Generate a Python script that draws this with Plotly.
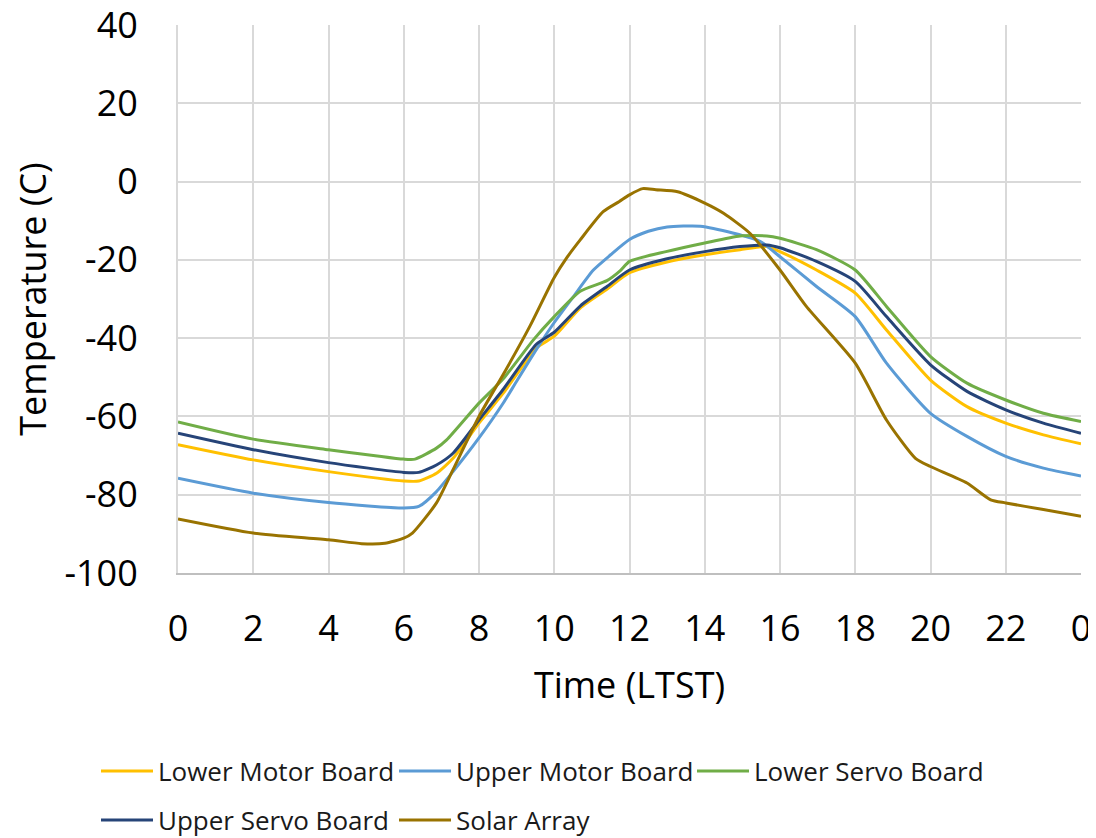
import plotly.graph_objects as go

# ---- data (hours LTST, temperature C) ----
hours_lmb = [0, 2, 4, 6, 6.4, 6.87, 7.31, 8, 8.65, 9.53, 10, 10.69, 11.4, 12, 12.97, 14, 14.94, 15.65, 16, 16.97, 18, 18.83, 20, 20.97, 22, 23, 24]
lower_motor = [-67.2, -71.1, -74.1, -76.5, -76.5, -74.5, -70.7, -61.7, -54.0, -42.5, -39.5, -32.3, -27.5, -23.3, -20.6, -18.7, -17.4, -16.6, -17.9, -22.6, -28.5, -37.9, -50.7, -57.5, -61.7, -64.7, -67.0]

hours_umb = [0, 2, 4, 6, 6.4, 6.87, 7.31, 8, 8.65, 9, 9.53, 10, 10.5, 11.04, 11.5, 12, 12.5, 13, 13.88, 14.77, 15.48, 16, 16.97, 18, 18.83, 20, 20.97, 22, 23, 24]
upper_motor = [-75.8, -79.6, -82.0, -83.4, -83.0, -79.2, -74.1, -65.5, -56.5, -51.0, -42.8, -36.0, -29.5, -22.6, -18.7, -14.8, -12.7, -11.6, -11.4, -13.2, -15.3, -19.2, -26.8, -34.5, -46.4, -59.2, -65.1, -70.2, -73.2, -75.2]

hours_lsb = [0, 2, 4, 6, 6.3, 6.87, 7.14, 8, 8.65, 9.44, 10, 10.69, 11.4, 11.75, 12, 12.97, 14, 14.94, 15.65, 16, 16.97, 18, 18.83, 20, 20.97, 22, 23, 24]
lower_servo = [-61.4, -65.8, -68.5, -70.9, -70.9, -68.1, -66.0, -56.6, -50.3, -40.5, -34.5, -28.0, -25.3, -22.8, -20.4, -17.9, -15.7, -13.9, -13.9, -14.5, -17.4, -22.6, -31.9, -44.7, -51.5, -55.8, -59.2, -61.3]

hours_usb = [0, 2, 4, 6, 6.4, 6.87, 7.31, 8, 8.65, 9.53, 10, 10.69, 11.4, 12, 12.97, 14, 14.94, 15.65, 16, 16.97, 18, 18.83, 20, 20.97, 22, 23, 24]
upper_servo = [-64.3, -68.5, -71.8, -74.3, -74.3, -72.4, -69.4, -60.9, -53.0, -41.5, -38.5, -31.8, -26.8, -22.6, -19.8, -17.9, -16.6, -16.2, -16.9, -20.4, -25.5, -34.5, -46.8, -53.6, -58.3, -61.7, -64.3]

hours_sa = [0, 2, 4, 4.88, 5.5, 6, 6.23, 6.87, 7.31, 8, 8.72, 9.35, 10, 10.33, 10.69, 11.3, 11.73, 12, 12.35, 12.7, 13.28, 14, 14.5, 15.2, 16, 16.7, 18, 18.83, 19.6, 20, 20.97, 21.6, 22, 23, 24]
solar_array = [-86.2, -89.8, -91.5, -92.5, -92.4, -91.1, -89.8, -82.1, -73.6, -60.0, -48.0, -37.0, -24.5, -19.5, -14.9, -7.7, -5.1, -3.4, -1.8, -2.1, -2.6, -5.5, -8.1, -13.2, -22.6, -31.9, -46.4, -60.9, -70.7, -72.8, -77.0, -81.3, -82.1, -83.8, -85.5]

x_tickvals = [0, 2, 4, 6, 8, 10, 12, 14, 16, 18, 20, 22, 24]
x_ticktext = ["0", "2", "4", "6", "8", "10", "12", "14", "16", "18", "20", "22", "0"]
y_tickvals = [-100, -80, -60, -40, -20, 0, 20, 40]
y_ticktext = ["-100", "-80", "-60", "-40", "-20", "0", "20", "40"]

FONT = "'Open Sans', 'Noto Sans', sans-serif"

series = [
    ("Lower Motor Board", hours_lmb, lower_motor, "#FFC000", "legend"),
    ("Upper Motor Board", hours_umb, upper_motor, "#5B9BD5", "legend"),
    ("Lower Servo Board", hours_lsb, lower_servo, "#70AD47", "legend"),
    ("Upper Servo Board", hours_usb, upper_servo, "#264478", "legend2"),
    ("Solar Array", hours_sa, solar_array, "#997300", "legend2"),
]

fig = go.Figure()
for name, xs, ys, col, lg in series:
    fig.add_trace(go.Scatter(x=xs, y=ys, mode="lines", name=name,
                             line=dict(color=col, width=3, shape="spline", smoothing=0.6),
                             legend=lg))

# page body has an 8px margin, so the figure is 1088x830 placed at (8, 8)
W, H = 1088, 830

legend_common = dict(orientation="h", xref="container", yref="container",
                     xanchor="left", yanchor="middle", entrywidth=231, entrywidthmode="pixels",
                     font=dict(family=FONT, size=26, color="#1a1a1a"),
                     bgcolor="rgba(0,0,0,0)", itemwidth=52, tracegroupgap=0)

fig.update_layout(
    width=W, height=H,
    margin=dict(l=170, r=15, t=17, b=265, autoexpand=False),
    paper_bgcolor="white", plot_bgcolor="white",
    font=dict(family=FONT, color="#000000"),
    legend=dict(x=(96 - 8) / W, y=1 - (771 - 8) / H, **legend_common),
    legend2=dict(x=(96 - 8) / W, y=1 - (820 - 8) / H, **legend_common),
    xaxis=dict(range=[0, 24], tickvals=x_tickvals, ticktext=x_ticktext,
               showgrid=True, gridcolor="#D9D9D9", gridwidth=2,
               showline=True, linecolor="#BFBFBF", linewidth=2, mirror=False,
               zeroline=False, ticks="", tickfont=dict(size=36, family=FONT),
               ticklabelstandoff=23, automargin=False, ticklabeloverflow="allow",
               title=dict(text="Time (LTST)", font=dict(size=36, family=FONT), standoff=22)),
    yaxis=dict(range=[-100, 40], tickvals=y_tickvals, ticktext=y_ticktext,
               showgrid=True, gridcolor="#D9D9D9", gridwidth=2,
               showline=True, linecolor="#D9D9D9", linewidth=2,
               zeroline=False, ticks="", tickfont=dict(size=36, family=FONT),
               ticklabelstandoff=31, automargin=False, ticklabeloverflow="allow",
               title=dict(text="Temperature (C)", font=dict(size=36, family=FONT), standoff=39)),
)

fig.write_html("out.html")
